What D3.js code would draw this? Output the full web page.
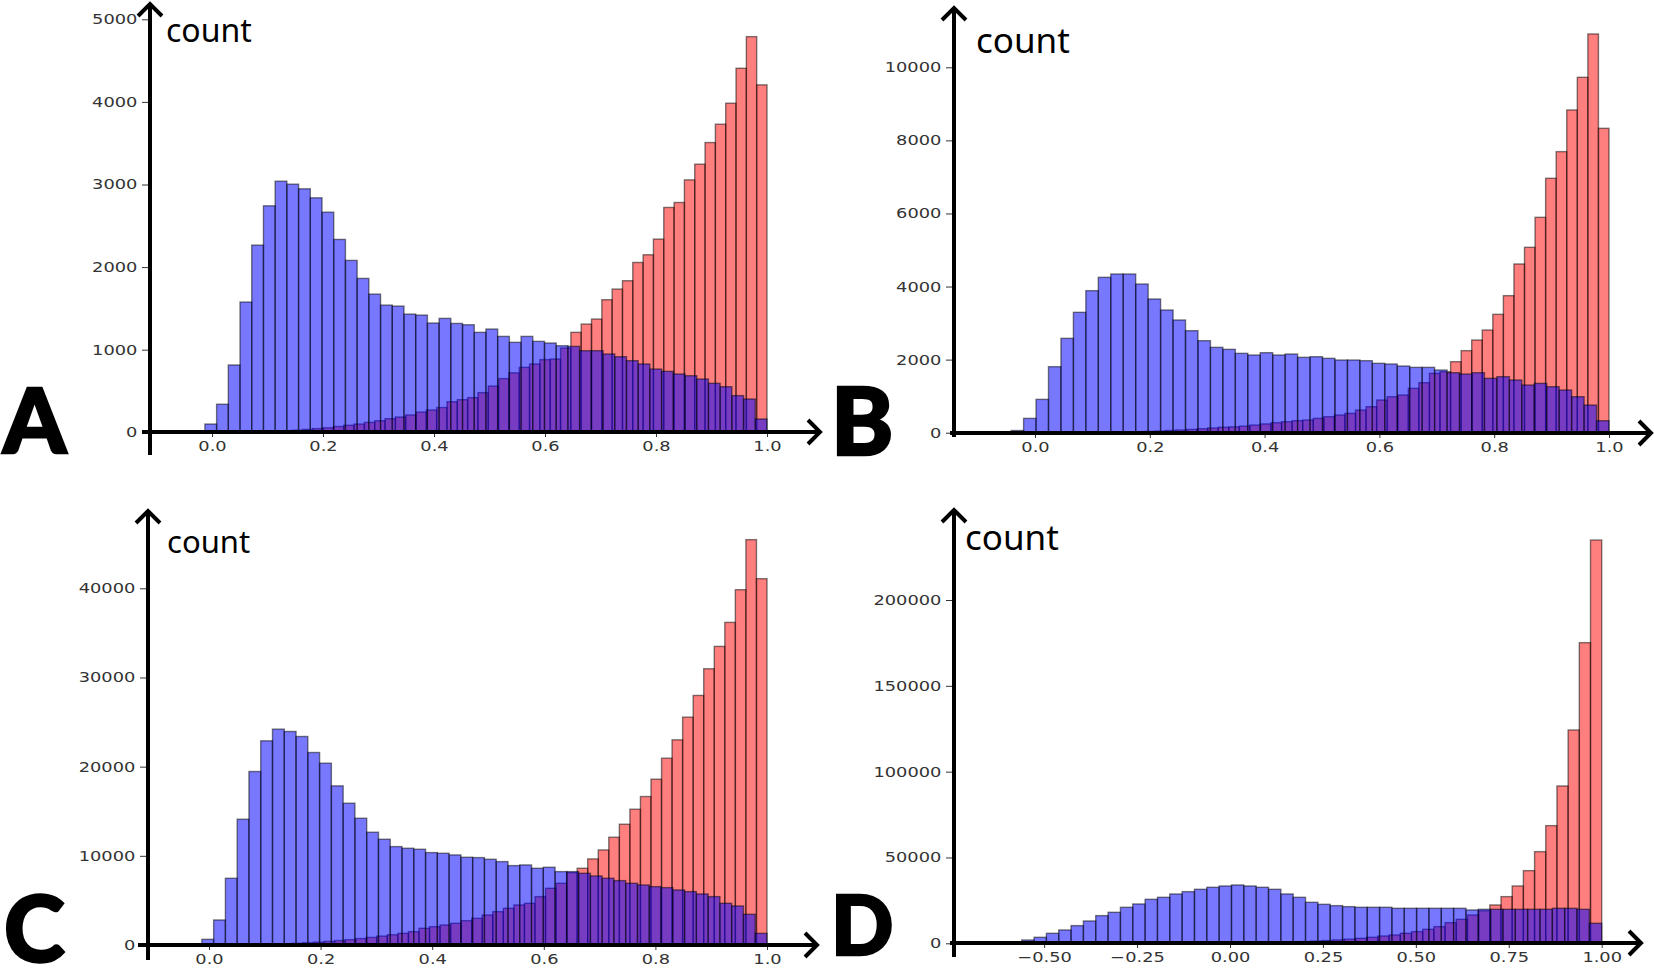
<!DOCTYPE html>
<html>
<head>
<meta charset="utf-8">
<script src="https://cdn.jsdelivr.net/npm/d3@7"></script>
<style>
  body { margin: 0; background: #fff; }
  .tick text { font-family: "DejaVu Sans", sans-serif; font-size: 14px; fill: #333; }
  .tick line { stroke: #333; }
  .count { font-family: "Noto Sans", "Open Sans", sans-serif; fill: #000; }
  .letter { font-family: "Lato", "Inter", "DejaVu Sans", sans-serif; font-weight: 900; fill: #000; stroke: #000; stroke-width: 2.5; }
</style>
</head>
<body>
<svg id="chart" width="1654" height="972"></svg>
<script>
// ---- panel A ----
var blueA = [0, 10, 100, 340, 815, 1577, 2266, 2742, 3040, 3004, 2948, 2839, 2665, 2335, 2081, 1863, 1673, 1540, 1528, 1431,
  1419, 1323, 1379, 1318, 1302, 1210, 1250, 1161, 1089, 1161, 1101, 1081, 1048, 1040, 988, 988, 948, 915, 867, 827,
  766, 738, 706, 685, 645, 593, 552, 444, 403, 161];
var redA = [5, 8, 12, 18, 25, 35, 45, 55, 70, 85, 100, 120, 140, 165, 185, 210, 245, 270, 300, 370,
  395, 420, 480, 560, 650, 720, 786, 827, 880, 887, 1020, 1210, 1310, 1371, 1605, 1734, 1835, 2056, 2149, 2339,
  2722, 2782, 3056, 3246, 3508, 3730, 3984, 4407, 4790, 4206];
var blueRangeA = [-0.055, 1.0];
var redRangeA = [0.07, 1.0];
var xTicksA = [0, 0.2, 0.4, 0.6, 0.8, 1.0];
var yTicksA = [0, 1000, 2000, 3000, 4000, 5000];

// ---- panel B ----
var blueB = [5, 20, 60, 392, 912, 1807, 2582, 3294, 3887, 4252, 4343, 4343, 4069, 3659, 3358, 3084, 2792, 2518, 2336, 2281,
  2172, 2126, 2190, 2126, 2153, 2062, 2080, 2035, 1989, 1989, 1971, 1898, 1880, 1825, 1788, 1788, 1715, 1642, 1606, 1642,
  1487, 1533, 1442, 1305, 1350, 1259, 1168, 985, 757, 328];
var redB = [3, 5, 8, 12, 18, 25, 35, 45, 60, 75, 90, 110, 130, 150, 160, 180, 210, 240, 275, 300,
  330, 347, 392, 438, 484, 529, 620, 712, 894, 985, 1031, 1213, 1369, 1624, 1670, 1943, 2245, 2536, 2810, 3239,
  3750, 4617, 5073, 5894, 6962, 7692, 8832, 9726, 10912, 8330];
var blueRangeB = [-0.085, 1.0];
var redRangeB = [0.08, 1.0];
var xTicksB = [0, 0.2, 0.4, 0.6, 0.8, 1.0];
var yTicksB = [0, 2000, 4000, 6000, 8000, 10000];

// ---- panel C ----
var blueC = [0, 30, 636, 2806, 7482, 14104, 19454, 22896, 24205, 23943, 23382, 21586, 20389, 17845, 15900, 14216, 12645, 11859, 11036, 10849,
  10737, 10363, 10288, 10101, 9839, 9802, 9615, 9353, 8904, 8979, 8605, 8717, 8230, 8230, 8043, 7744, 7482, 7220, 6921, 6734,
  6547, 6435, 6173, 5986, 5724, 5425, 4676, 4377, 3442, 1309];
var redC = [20, 40, 65, 100, 140, 190, 250, 320, 400, 500, 600, 720, 850, 1000, 1150, 1309, 1496, 1871, 2058, 2245,
  2432, 2731, 2993, 3367, 3741, 4115, 4489, 4676, 5425, 6360, 6921, 8118, 8605, 9652, 10662, 12084, 13543, 15226, 16648, 18593,
  20950, 23008, 25552, 27984, 30977, 33483, 36177, 39843, 45455, 41077];
var blueRangeC = [-0.055, 1.0];
var redRangeC = [0.055, 1.0];
var xTicksC = [0, 0.2, 0.4, 0.6, 0.8, 1.0];
var yTicksC = [0, 10000, 20000, 30000, 40000];

// ---- panel D ----
var blueD = [100, 300, 800, 1942, 3495, 5825, 7767, 10291, 13010, 16117, 18058, 20971, 22913, 25631, 26796, 28738, 30097, 31456, 32621, 33398,
  33981, 33398, 32621, 31456, 28738, 26796, 23883, 22718, 21942, 21359, 20971, 20971, 20971, 20388, 20388, 20388, 20388, 20388, 20388, 19417,
  19806, 19806, 19806, 19806, 19806, 19806, 20388, 20388, 19806, 11650];
var redD = [0, 0, 0, 0, 1, 1, 2, 3, 4, 5, 10, 15, 25, 40, 60, 90, 130, 180, 250, 350,
  450, 600, 800, 1000, 1300, 1600, 2000, 2400, 2913, 3495, 4272, 4854, 5825, 6796, 8155, 9709, 12039, 13981, 16505, 19000,
  22330, 27184, 33398, 42330, 53398, 68544, 91650, 124272, 175146, 234951];
var blueRangeD = [-0.66, 1.0];
var redRangeD = [-0.505, 1.0];
var xTicksD = [-0.5, -0.25, 0, 0.25, 0.5, 0.75, 1.0];
var yTicksD = [0, 50000, 100000, 150000, 200000];

// where each panel sits on the page
var panels = [
  { letter: "A", blue: blueA, red: redA, blueRange: blueRangeA, redRange: redRangeA, xTicks: xTicksA, yTicks: yTicksA, fmt: ".1f",
    xPx: [212, 767], yMax: 5000, yPx: [432.3, 19.3], axisX: 150, axisY: 432, yTop: 3, yBottom: 455, xLeft: 142, xRight: 820,
    countX: 166, countY: 42, countSize: 32, letterX: 3, letterY: 453, letterSize: 90 },
  { letter: "B", blue: blueB, red: redB, blueRange: blueRangeB, redRange: redRangeB, xTicks: xTicksB, yTicks: yTicksB, fmt: ".1f",
    xPx: [1035, 1609], yMax: 10000, yPx: [432.7, 67.3], axisX: 954, axisY: 433, yTop: 7, yBottom: 437, xLeft: 950, xRight: 1651,
    countX: 976, countY: 53, countSize: 35, letterX: 831, letterY: 455, letterSize: 94 },
  { letter: "C", blue: blueC, red: redC, blueRange: blueRangeC, redRange: redRangeC, xTicks: xTicksC, yTicks: yTicksC, fmt: ".1f",
    xPx: [209, 767], yMax: 40000, yPx: [945, 588.3], axisX: 148, axisY: 945, yTop: 510, yBottom: 960, xLeft: 138, xRight: 817,
    countX: 167, countY: 553, countSize: 31, letterX: 4, letterY: 962, letterSize: 92 },
  { letter: "D", blue: blueD, red: redD, blueRange: blueRangeD, redRange: redRangeD, xTicks: xTicksD, yTicks: yTicksD, fmt: ".2f",
    xPx: [1230, 1601.7], yMax: 200000, yPx: [943.3, 600], axisX: 954, axisY: 943, yTop: 509, yBottom: 957, xLeft: 950, xRight: 1641,
    countX: 965, countY: 550, countSize: 35, letterX: 831, letterY: 955, letterSize: 82 }
];

var svg = d3.select("#chart");

panels.forEach(function(p) {
  var xScale = d3.scaleLinear().domain([0, 1]).range(p.xPx);
  var yScale = d3.scaleLinear().domain([0, p.yMax]).range(p.yPx);

  var g = svg.append("g");

  // tick marks and labels (matplotlib-ish), spines removed
  var yAxis = g.append("g")
    .attr("transform", "translate(" + p.axisX + ",0)")
    .call(d3.axisLeft(yScale).tickValues(p.yTicks).tickFormat(d3.format("d")).tickSize(8).tickPadding(2));
  yAxis.select(".domain").remove();

  var xAxis = g.append("g")
    .attr("transform", "translate(0," + p.axisY + ")")
    .call(d3.axisBottom(xScale).tickValues(p.xTicks).tickFormat(d3.format(p.fmt)).tickSize(5).tickPadding(4));
  xAxis.select(".domain").remove();

  // the scanned labels are stretched sideways
  g.selectAll(".tick text").attr("transform", "scale(1.27,1)");

  // histogram bars: red first, blue on top
  function drawHist(counts, range, colour, alpha) {
    var n = counts.length;
    var step = (range[1] - range[0]) / n;
    g.append("g").selectAll("rect")
      .data(counts)
      .enter()
      .append("rect")
      .attr("x", function(d, i) { return xScale(range[0] + i * step); })
      .attr("width", function(d, i) { return xScale(range[0] + (i + 1) * step) - xScale(range[0] + i * step); })
      .attr("y", function(d) { return yScale(d); })
      .attr("height", function(d) { return yScale(0) - yScale(d); })
      .attr("fill", colour)
      .attr("fill-opacity", alpha)
      .attr("stroke", "#000")
      .attr("stroke-opacity", 0.5)
      .attr("stroke-width", 1.4);
  }
  drawHist(p.red, p.redRange, "#ff0000", 0.5);
  drawHist(p.blue, p.blueRange, "#0000ff", 0.53);

  // thick arrows
  var axisG = g.append("g")
    .attr("fill", "none")
    .attr("stroke", "#000")
    .attr("stroke-width", 4)
    .attr("stroke-linecap", "butt");

  axisG.append("line")
    .attr("x1", p.axisX).attr("y1", p.yBottom)
    .attr("x2", p.axisX).attr("y2", p.yTop + 2);
  axisG.append("path")
    .attr("d", "M" + (p.axisX - 12) + "," + (p.yTop + 13) + "L" + p.axisX + "," + (p.yTop + 1) + "L" + (p.axisX + 12) + "," + (p.yTop + 13));

  axisG.append("line")
    .attr("x1", p.xLeft).attr("y1", p.axisY)
    .attr("x2", p.xRight - 2).attr("y2", p.axisY);
  axisG.append("path")
    .attr("d", "M" + (p.xRight - 12) + "," + (p.axisY - 12) + "L" + p.xRight + "," + p.axisY + "L" + (p.xRight - 12) + "," + (p.axisY + 12));

  g.append("text")
    .attr("class", "count")
    .attr("x", p.countX)
    .attr("y", p.countY)
    .style("font-size", p.countSize + "px")
    .text("count");

  g.append("text")
    .attr("class", "letter")
    .attr("x", p.letterX)
    .attr("y", p.letterY)
    .style("font-size", p.letterSize + "px")
    .text(p.letter);
});
</script>
</body>
</html>
